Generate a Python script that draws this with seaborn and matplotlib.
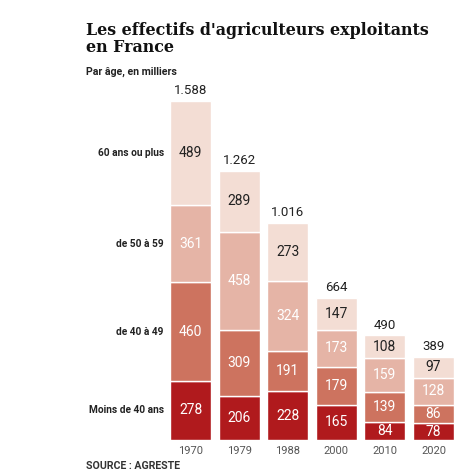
import matplotlib
matplotlib.use("Agg")
import matplotlib.pyplot as plt
import numpy as np
import pandas as pd
import seaborn as sns

# %% Data (milliers d'exploitants)
years = ["1970", "1979", "1988", "2000", "2010", "2020"]
age_groups = ["Moins de 40 ans", "de 40 à 49", "de 50 à 59", "60 ans ou plus"]
moins_40 = [278, 206, 228, 165, 84, 78]
de_40_49 = [460, 309, 191, 179, 139, 86]
de_50_59 = [361, 458, 324, 173, 159, 128]
plus_60 = [489, 289, 273, 147, 108, 97]
totals_label = ["1.588", "1.262", "1.016", "664", "490", "389"]

colors = ["#b01a1d", "#cd735f", "#e5b4a6", "#f3ddd4"]
text_colors = ["white", "white", "white", "#222222"]

series = [moins_40, de_40_49, de_50_59, plus_60]

sns.set_style("white")
plt.rcParams["font.family"] = ["Roboto", "DejaVu Sans"]

fig = plt.figure(figsize=(4.74, 4.73), dpi=100)
ax = fig.add_axes([170 / 474, 1 - 440 / 473, 284 / 474, 350 / 473])

bottom = np.zeros(len(years))
for i, (name, vals) in enumerate(zip(age_groups, series)):
    df = pd.DataFrame({"annee": years, "valeur": vals})
    sns.barplot(data=df, x="annee", y="valeur", color=colors[i], bottom=bottom,
                width=0.845, edgecolor="white", linewidth=1, saturation=1, ax=ax)
    for j, v in enumerate(vals):
        ax.text(j, bottom[j] + v / 2, str(v), ha="center", va="center",
                fontsize=10, color=text_colors[i])
    # age group label on the left of the first bar
    ax.text(-0.55, bottom[0] + vals[0] / 2, name, ha="right", va="center",
            fontsize=7.3, fontweight="bold", color="#222222")
    bottom = bottom + np.array(vals)

for j, lab in enumerate(totals_label):
    ax.text(j, bottom[j] + 18, lab, ha="center", va="bottom", fontsize=9.5, color="#222222")

ax.set_xlim(-0.4225, 5.4225)
ax.set_ylim(0, 1639)
ax.set_xlabel("")
ax.set_ylabel("")
ax.set_yticks([])
ax.tick_params(axis="x", length=0, pad=4, labelsize=8, labelcolor="#555555")
sns.despine(ax=ax, left=True, bottom=True)

fig.text(86 / 474, 1 - 22 / 473, "Les effectifs d'agriculteurs exploitants\nen France",
         ha="left", va="top", fontsize=11.4, fontweight="bold", family="DejaVu Serif",
         color="#111111", linespacing=1.0)
fig.text(86 / 474, 1 - 72 / 473, "Par âge, en milliers", ha="left", va="center",
         fontsize=7.6, fontweight="bold", color="#222222")
fig.text(86 / 474, 1 - 466 / 473, "SOURCE : AGRESTE", ha="left", va="center",
         fontsize=7.6, fontweight="bold", color="#333333")

fig.savefig("out.png", dpi=100)
